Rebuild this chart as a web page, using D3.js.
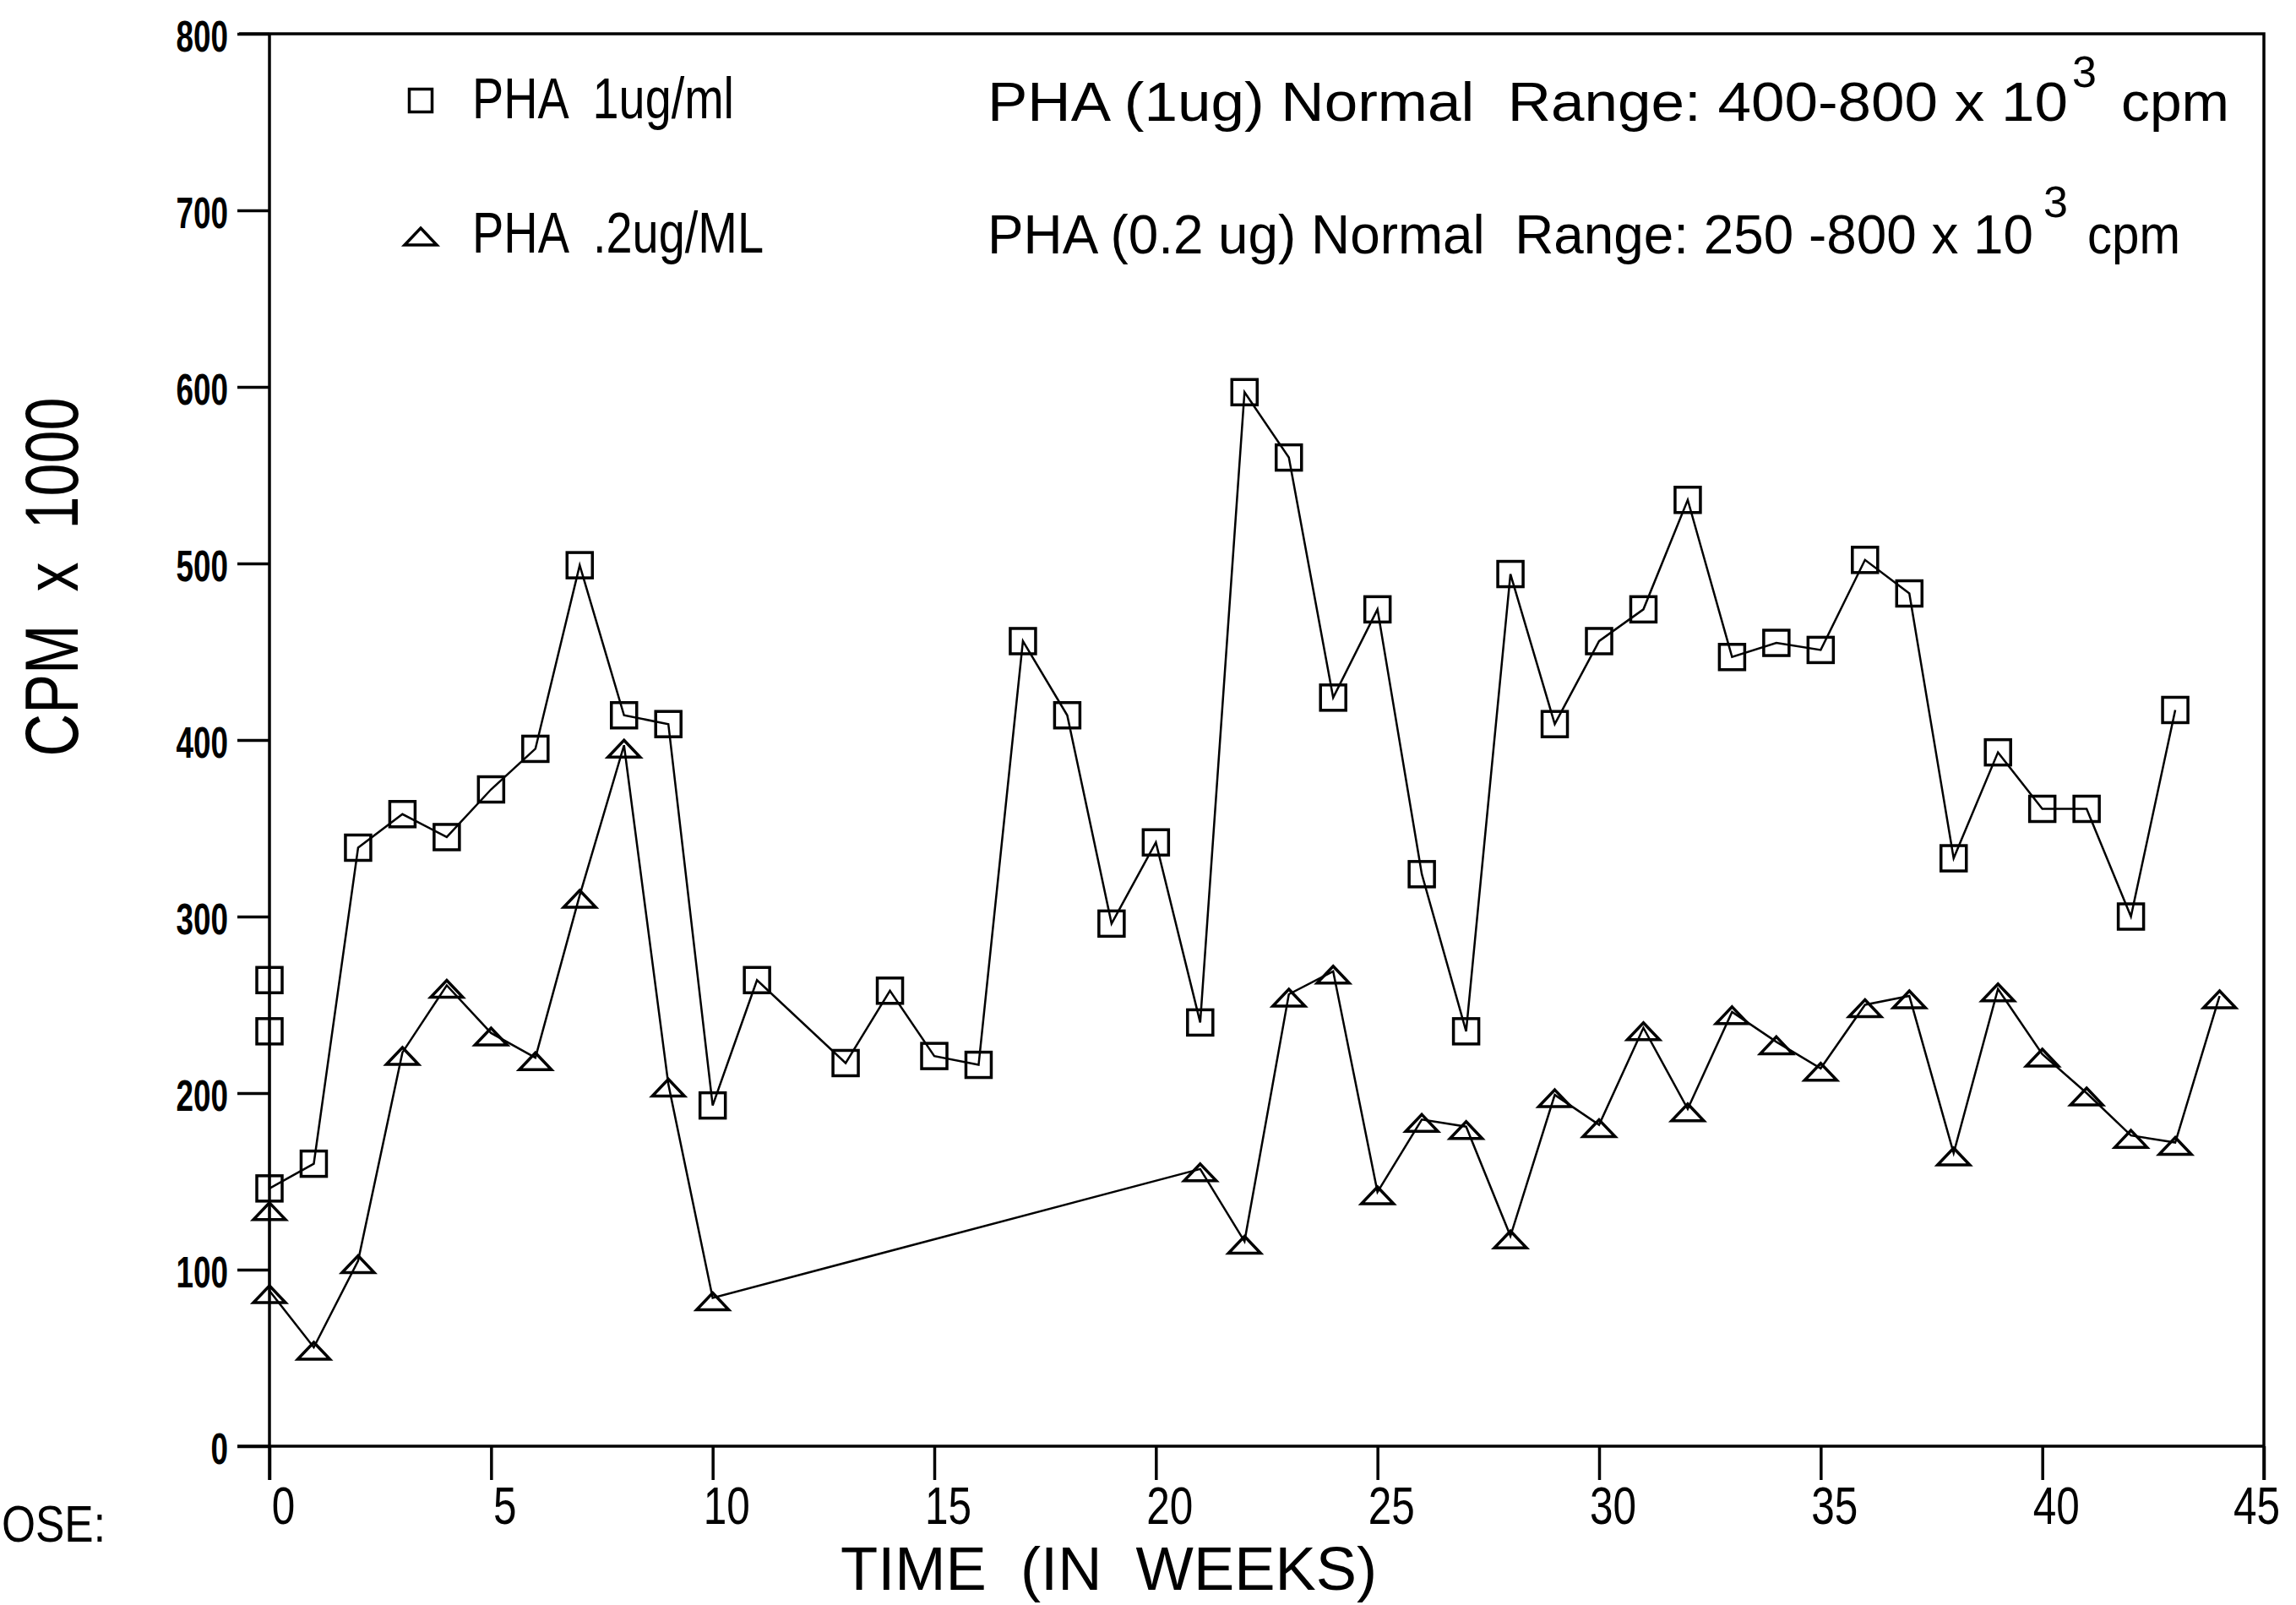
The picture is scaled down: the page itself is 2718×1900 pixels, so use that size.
<!DOCTYPE html>
<html>
<head>
<meta charset="utf-8">
<script src="https://cdn.jsdelivr.net/npm/d3@7"></script>
<style>
  html, body { margin: 0; padding: 0; background: #fff; }
  svg { display: block; }
  text { fill: #000; white-space: pre; }
</style>
</head>
<body>
<svg id="chart" width="2718" height="1900"></svg>
<script>
// ---- data ----
const squareWeeks = [0, 0, 0, 1, 2, 3, 4, 5, 6, 7, 8, 9, 10, 11, 13, 14, 15, 16, 17, 18, 19, 20, 21, 22, 23, 24, 25, 26, 27, 28, 29, 30, 31, 32, 33, 34, 35, 36, 37, 38, 39, 40, 41, 42, 43];
const squareValues = [264, 235, 146, 160, 339, 358, 345, 372, 395, 499, 414, 409, 193, 264, 217, 258, 221, 216, 456, 414, 296, 342, 240, 597, 560, 424, 474, 324, 235, 494, 409, 456, 474, 536, 447, 455, 451, 502, 483, 333, 393, 361, 361, 300, 417];

const triangleWeeks = [0, 0, 1, 2, 3, 4, 5, 6, 7, 8, 9, 10, 21, 22, 23, 24, 25, 26, 27, 28, 29, 30, 31, 32, 33, 34, 35, 36, 37, 38, 39, 40, 41, 42, 43, 44];
const triangleValues = [135, 88, 56, 105, 223, 261, 234, 220, 312, 397, 205, 84, 157, 116, 256, 269, 144, 185, 181, 119, 199, 182, 237, 191, 246, 229, 214, 250, 255, 166, 259, 222, 200, 176, 172, 255];

const xTickValues = [0, 5, 10, 15, 20, 25, 30, 35, 40, 45];
const yTickValues = [0, 100, 200, 300, 400, 500, 600, 700, 800];

const seriesLabels = ["PHA  1ug/ml", "PHA  .2ug/ML"];
const rangeNotes = [
  { main: "PHA (1ug) Normal  Range: 400-800 x 10", sup: "3", unit: "cpm" },
  { main: "PHA (0.2 ug) Normal  Range: 250 -800 x 10", sup: "3", unit: "cpm" }
];
const xTitle = "TIME  (IN  WEEKS)";
const yTitle = "CPM  x  1000";
const doseLabel = "OSE:";

(function () {
// ---- layout ----
const W = 2718, H = 1900;
const pL = 319, pR = 2680, pT = 40, pB = 1712;

const svg = d3.select("#chart");
svg.append("rect").attr("width", W).attr("height", H).attr("fill", "#fff");

const x = d3.scaleLinear().domain([0, 45]).range([pL, pR]);
const y = d3.scaleLinear().domain([0, 800]).range([pB, pT]);

const FONT = "'Liberation Sans', Arial, sans-serif";

// frame (top and right borders)
svg.append("path")
  .attr("d", `M${pL - 36},${pT} L${pR},${pT} L${pR},${pB + 40}`)
  .attr("fill", "none").attr("stroke", "#000").attr("stroke-width", 3.5);

// y axis
const yAxis = d3.axisLeft(y).tickValues(yTickValues).tickSize(38).tickPadding(11)
  .tickFormat(d3.format("d"));
const gy = svg.append("g").attr("transform", `translate(${pL},0)`).call(yAxis);
gy.select(".domain").remove();
gy.selectAll(".tick line").attr("stroke", "#000").attr("stroke-width", 3.5);
gy.selectAll(".tick text")
  .attr("font-family", FONT).attr("font-weight", "bold").attr("font-size", 51)
  .attr("dy", "0.4em")
  .attr("textLength", d => String(d).length * 20.5)
  .attr("lengthAdjust", "spacingAndGlyphs")
  .attr("fill", "#000");
svg.append("line")
  .attr("x1", pL).attr("x2", pL).attr("y1", pT).attr("y2", pB + 40)
  .attr("stroke", "#000").attr("stroke-width", 3.5);

// x axis
const xAxis = d3.axisBottom(x).tickValues(xTickValues).tickSize(40).tickPadding(8)
  .tickFormat(d3.format("d"));
const gx = svg.append("g").attr("transform", `translate(0,${pB})`).call(xAxis);
gx.select(".domain").remove();
gx.selectAll(".tick line").attr("stroke", "#000").attr("stroke-width", 3.5);
gx.selectAll(".tick text")
  .attr("font-family", FONT).attr("font-size", 63)
  .attr("text-anchor", "middle")
  .attr("x", d => Math.min(16, W - 47 - x(d)))
  .attr("y", 92).attr("dy", 0)
  .attr("textLength", d => String(d).length * 27.5)
  .attr("lengthAdjust", "spacingAndGlyphs")
  .attr("fill", "#000");
svg.append("line")
  .attr("x1", pL - 38).attr("x2", pR).attr("y1", pB).attr("y2", pB)
  .attr("stroke", "#000").attr("stroke-width", 3.5);

// axis titles
svg.append("text")
  .attr("transform", "translate(92,683) rotate(-90)")
  .attr("text-anchor", "middle")
  .attr("font-family", FONT).attr("font-size", 89)
  .attr("textLength", 425).attr("lengthAdjust", "spacingAndGlyphs")
  .text(yTitle);

svg.append("text")
  .attr("x", 995).attr("y", 1882)
  .attr("font-family", FONT).attr("font-size", 72)
  .attr("textLength", 635).attr("lengthAdjust", "spacingAndGlyphs")
  .text(xTitle);

svg.append("text")
  .attr("x", 2).attr("y", 1825)
  .attr("font-family", FONT).attr("font-size", 62)
  .attr("textLength", 123).attr("lengthAdjust", "spacingAndGlyphs")
  .text(doseLabel);

// ---- series ----
const squares = squareWeeks.map((w, i) => ({ w, v: squareValues[i] }));
const triangles = triangleWeeks.map((w, i) => ({ w, v: triangleValues[i] }));

const line = d3.line().x(d => x(d.w)).y(d => y(d.v));

svg.append("path").datum(squares).attr("d", line)
  .attr("fill", "none").attr("stroke", "#000").attr("stroke-width", 2.5);
svg.append("path").datum(triangles).attr("d", line)
  .attr("fill", "none").attr("stroke", "#000").attr("stroke-width", 2.5);

const SQ = 30;
const triPath = "M0,-6 L19,14 L-19,14 Z";

svg.append("g").selectAll("rect").data(squares).join("rect")
  .attr("x", d => x(d.w) - SQ / 2).attr("y", d => y(d.v) - SQ / 2)
  .attr("width", SQ).attr("height", SQ)
  .attr("fill", "none").attr("stroke", "#000").attr("stroke-width", 3.5);

svg.append("g").selectAll("path").data(triangles).join("path")
  .attr("transform", d => `translate(${x(d.w)},${y(d.v)})`)
  .attr("d", triPath)
  .attr("fill", "none").attr("stroke", "#000").attr("stroke-width", 3.5);

// ---- legend ----
const LSQ = 27;
svg.append("rect")
  .attr("x", 498 - LSQ / 2).attr("y", 119 - LSQ / 2).attr("width", LSQ).attr("height", LSQ)
  .attr("fill", "none").attr("stroke", "#000").attr("stroke-width", 3.5);
svg.append("path")
  .attr("transform", "translate(498,276)")
  .attr("d", triPath)
  .attr("fill", "none").attr("stroke", "#000").attr("stroke-width", 3.5);

svg.append("text").attr("x", 559).attr("y", 140)
  .attr("font-family", FONT).attr("font-size", 68)
  .attr("textLength", 310).attr("lengthAdjust", "spacingAndGlyphs")
  .text(seriesLabels[0]);
svg.append("text").attr("x", 559).attr("y", 299)
  .attr("font-family", FONT).attr("font-size", 68)
  .attr("textLength", 345).attr("lengthAdjust", "spacingAndGlyphs")
  .text(seriesLabels[1]);

// ---- normal range notes ----
const noteLayout = [
  { x: 1169, base: 143, len: 1279, supX: 2453, supBase: 103, unitX: 2511, unitLen: 128 },
  { x: 1169, base: 300, len: 1238, supX: 2419, supBase: 257, unitX: 2471, unitLen: 110 }
];
rangeNotes.forEach((n, i) => {
  const L = noteLayout[i];
  svg.append("text").attr("x", L.x).attr("y", L.base)
    .attr("font-family", FONT).attr("font-size", 64)
    .attr("textLength", L.len).attr("lengthAdjust", "spacingAndGlyphs")
    .text(n.main);
  svg.append("text").attr("x", L.supX).attr("y", L.supBase)
    .attr("font-family", FONT).attr("font-size", 52)
    .text(n.sup);
  svg.append("text").attr("x", L.unitX).attr("y", L.base)
    .attr("font-family", FONT).attr("font-size", 64)
    .attr("textLength", L.unitLen).attr("lengthAdjust", "spacingAndGlyphs")
    .text(n.unit);
});
})();
</script>
</body>
</html>
